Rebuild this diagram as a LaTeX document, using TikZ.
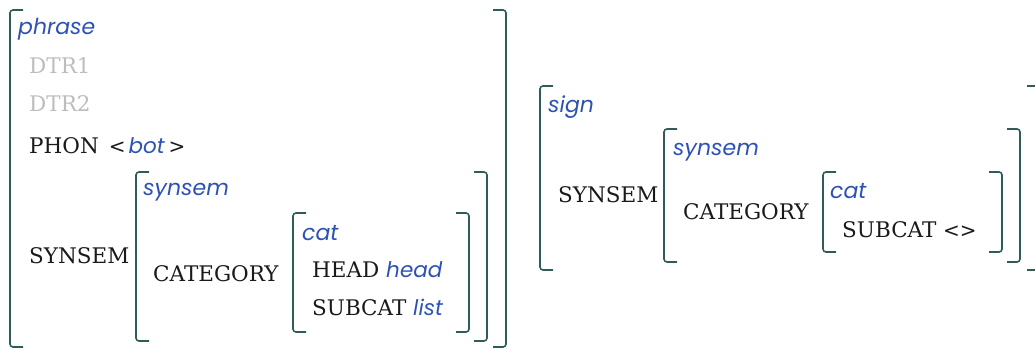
\documentclass[tikz,border=0pt]{standalone}
\usepackage{fontspec}
\setmainfont{DejaVu Serif}
\newfontfamily\typefont{Poppins}
\newfontfamily\ltfont{DejaVu Sans}
\usepackage{xcolor}
\definecolor{br}{HTML}{2E5C58}
\definecolor{ty}{HTML}{2D52B4}
\definecolor{fe}{HTML}{1A1A1A}
\definecolor{dim}{HTML}{BDBDBD}

\tikzset{
  brk/.style={draw=br, line width=1.6pt, rounded corners=3pt},
  feat/.style={anchor=base west, inner sep=0pt, text=fe, font=\fontsize{21.5}{21.5}\selectfont},
  gone/.style={feat, text=dim},
  type/.style={anchor=base west, inner sep=0pt, text=ty, font=\typefont\itshape\fontsize{22}{22}\selectfont},
}

\begin{document}
\begin{tikzpicture}[x=1pt, y=-1pt]
  \useasboundingbox (0,0) rectangle (1035,350);
  \clip (0,0) rectangle (1035,350);

  % phrase
  \draw[brk] (23,10) -- (10,10) -- (10,347) -- (23,347);
  \draw[brk] (493,10) -- (506,10) -- (506,347) -- (493,347);
  \node[type] (phrase) at (18,35) {phrase};
  \node[gone] (dtrone) at (29,74) {DTR1};
  \node[gone] (dtrtwo) at (29,112) {DTR2};
  \node[feat] (phon) at (29,153) {PHON\hspace{10pt}{\ltfont\fontsize{20}{20}\selectfont<}\hspace{3pt}\textcolor{ty}{\typefont\itshape bot}\hspace{4pt}{\ltfont\fontsize{20}{20}\selectfont>}};
  \node[feat] (synsema) at (29,263) {SYNSEM};

  \draw[brk] (149,172) -- (136,172) -- (136,341) -- (149,341);
  \draw[brk] (474,172) -- (487,172) -- (487,341) -- (474,341);
  \node[type] (synsemta) at (143,195) {synsem};
  \node[feat] (categorya) at (153,281) {CATEGORY};

  \draw[brk] (306,213) -- (293,213) -- (293,332) -- (306,332);
  \draw[brk] (456,213) -- (469,213) -- (469,332) -- (456,332);
  \node[type] (cata) at (302,240) {cat};
  \node[feat] (head) at (312,277) {HEAD \textcolor{ty}{\typefont\itshape head}};
  \node[feat] (subcata) at (312,315) {SUBCAT \textcolor{ty}{\typefont\itshape list}};

  % sign
  \draw[brk] (553,86) -- (540,86) -- (540,270) -- (553,270);
  \draw[brk] (1027,86) -- (1040,86) -- (1040,270) -- (1027,270);
  \node[type] (sign) at (548,113) {sign};
  \node[feat] (synsemb) at (558,202) {SYNSEM};

  \draw[brk] (677,129) -- (664,129) -- (664,262) -- (677,262);
  \draw[brk] (1007,129) -- (1020,129) -- (1020,262) -- (1007,262);
  \node[type] (synsemtb) at (673,155) {synsem};
  \node[feat] (categoryb) at (683,219) {CATEGORY};

  \draw[brk] (836,172) -- (823,172) -- (823,252) -- (836,252);
  \draw[brk] (989,172) -- (1002,172) -- (1002,252) -- (989,252);
  \node[type] (catb) at (830,198) {cat};
  \node[feat] (subcatb) at (842,237) {SUBCAT {\ltfont\fontsize{20}{20}\selectfont<>}};
\end{tikzpicture}
\end{document}
